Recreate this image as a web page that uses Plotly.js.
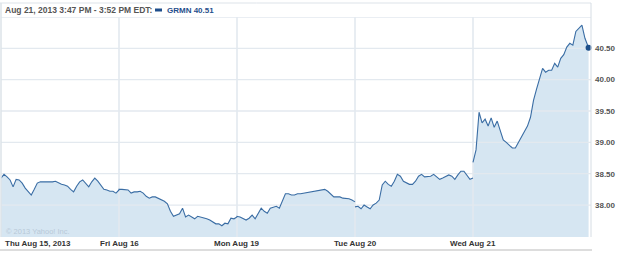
<!DOCTYPE html>
<html>
<head>
<meta charset="utf-8">
<script src="https://cdn.plot.ly/plotly-3.0.1.min.js"></script>
<style>html,body{margin:0;padding:0;background:#fff;}#chart{width:625px;height:255px;}</style>
</head>
<body>
<div id="chart"></div>
<script>
// ---- data ----
const dayLabels = ['Thu Aug 15, 2013', 'Fri Aug 16', 'Mon Aug 19', 'Tue Aug 20', 'Wed Aug 21'];
const sessionMinutes = 390;      // 9:30 - 16:00
const sampleStep = 10;           // minutes between samples
const lastTradeMinute = 382;     // 3:52 PM on Wed
const breakBefore = [false, false, false, true, true];

const thuPrice = [38.43,38.49,38.45,38.40,38.29,38.41,38.40,38.35,38.27,38.21,
                  38.16,38.25,38.35,38.37,38.37,38.36,38.37,38.37,38.38,38.35,
                  38.33,38.32,38.30,38.25,38.21,38.30,38.37,38.40,38.35,38.29,
                  38.37,38.43,38.38,38.32,38.25,38.24,38.22,38.22,38.19,38.24];
const friPrice = [38.25,38.25,38.25,38.24,38.19,38.21,38.21,38.22,38.19,38.14,
                  38.11,38.13,38.13,38.11,38.08,38.06,38.02,37.90,37.82,37.84,
                  37.86,37.95,37.81,37.84,37.81,37.78,37.82,37.81,37.79,37.78,
                  37.76,37.73,37.70,37.70,37.67,37.71,37.70,37.79,37.78,37.81];
const monPrice = [37.82,37.81,37.78,37.76,37.79,37.84,37.78,37.87,37.95,37.90,
                  37.87,37.95,37.97,37.98,37.95,38.08,38.18,38.18,38.16,38.16,
                  38.18,38.18,38.19,38.19,38.21,38.21,38.22,38.24,38.24,38.25,
                  38.22,38.18,38.13,38.13,38.13,38.11,38.11,38.10,38.08,38.05];
const tuePrice = [37.97,37.98,37.94,38.00,37.97,37.94,38.00,38.03,38.08,38.32,
                  38.38,38.33,38.30,38.38,38.49,38.46,38.38,38.35,38.33,38.33,
                  38.38,38.46,38.49,38.45,38.45,38.46,38.49,38.45,38.41,38.43,
                  38.46,38.48,38.46,38.41,38.48,38.54,38.54,38.48,38.41,38.43];
const wedPrice = [38.68,38.88,39.48,39.31,39.37,39.26,39.39,39.24,39.34,39.19,
                  39.04,39.00,38.96,38.91,38.91,39.00,39.10,39.18,39.26,39.40,
                  39.67,39.85,40.01,40.18,40.12,40.15,40.15,40.26,40.20,40.34,
                  40.40,40.52,40.58,40.55,40.77,40.82,40.87,40.66,40.51];
const yTicks = [38.0, 38.5, 39.0, 39.5, 40.0, 40.5];
const yGrid = [38.0, 38.5, 39.0, 39.5, 40.0, 40.5, 41.0];
const yRange = [37.49, 41.0];
const headerText = 'Aug 21, 2013 3:47 PM - 3:52 PM EDT:';
const legendText = 'GRMN 40.51';
const watermark = '\u00a9 2013 Yahoo! Inc.';

// ---- build series ----
const days = [thuPrice, friPrice, monPrice, tuePrice, wedPrice];
const xs = [], ys = [];
days.forEach((vals, d) => {
  if (breakBefore[d]) { xs.push(d * sessionMinutes); ys.push(null); }
  vals.forEach((v, i) => {
    let m = i * sampleStep;
    if (d === days.length - 1 && i === vals.length - 1) m = lastTradeMinute;
    xs.push(d * sessionMinutes + m);
    ys.push(v);
  });
});
const totalMinutes = days.length * sessionMinutes;
const dayStarts = dayLabels.map((_, d) => d * sessionMinutes);

const FONT = 'Liberation Sans, Arial, Helvetica, sans-serif';
const gridColor = '#e3e9ef';

const traces = [];
// fill
traces.push({x: xs, y: ys, type: 'scatter', mode: 'lines', fill: 'tozeroy',
  fillcolor: '#d6e6f2', line: {width: 0, color: 'rgba(0,0,0,0)'}, connectgaps: false,
  hoverinfo: 'skip', showlegend: false});
// gridlines over the fill
yGrid.forEach(g => traces.push({x: [0, totalMinutes], y: [g, g], type: 'scatter', mode: 'lines',
  line: {color: gridColor, width: 1.3}, hoverinfo: 'skip', showlegend: false}));
dayStarts.slice(1).forEach(s => traces.push({x: [s, s], y: yRange, type: 'scatter', mode: 'lines',
  line: {color: gridColor, width: 1.6}, hoverinfo: 'skip', showlegend: false}));
// price line
traces.push({x: xs, y: ys, type: 'scatter', mode: 'lines', connectgaps: false,
  line: {color: '#3a6da4', width: 1.1}, hoverinfo: 'skip', showlegend: false});
// last point
traces.push({x: [xs[xs.length - 1]], y: [ys[ys.length - 1]], type: 'scatter', mode: 'markers',
  marker: {color: '#1d4f8a', size: 6}, hoverinfo: 'skip', showlegend: false, cliponaxis: false});

const W = 625, H = 255, ml = 1, mr = 34, mt = 17, mb = 18;
const pw = W - ml - mr, ph = H - mt - mb;
const px = p => (p - ml) / pw;               // pixel -> paper x
const py = p => (H - mb - p) / ph;           // pixel -> paper y

const annotations = [];
dayLabels.forEach((t, d) => annotations.push({
  text: t, x: dayStarts[d], xref: 'x', y: py(244), yref: 'paper',
  xanchor: d === 0 ? 'left' : 'center', yanchor: 'middle', showarrow: false,
  xshift: d === 0 ? 2 : 0,
  font: {family: FONT, size: 8, color: '#333333', weight: 'bold'}
}));
annotations.push({text: headerText, x: px(3), xref: 'paper', y: py(10), yref: 'paper',
  xanchor: 'left', yanchor: 'middle', showarrow: false,
  font: {family: FONT, size: 8.5, color: '#555555', weight: 'bold'}});
annotations.push({text: legendText, x: px(165), xref: 'paper', y: py(10), yref: 'paper',
  xanchor: 'left', yanchor: 'middle', showarrow: false,
  font: {family: FONT, size: 8, color: '#1f4e8c', weight: 'bold'}});
annotations.push({text: watermark, x: px(4), xref: 'paper', y: py(231), yref: 'paper',
  xanchor: 'left', yanchor: 'middle', showarrow: false,
  font: {family: FONT, size: 7.5, color: '#b8c9d8'}});

const shapes = [
  // header box top
  {type: 'line', xref: 'paper', yref: 'paper', x0: px(0), x1: 1, y0: py(3), y1: py(3),
   line: {color: '#dde3e9', width: 1}},
  // right border
  {type: 'line', xref: 'paper', yref: 'paper', x0: 1, x1: 1, y0: py(3), y1: 0,
   line: {color: '#d6dde4', width: 1}},
  // left border
  {type: 'line', xref: 'paper', yref: 'paper', x0: px(1), x1: px(1), y0: py(3), y1: 0,
   line: {color: '#dde3e9', width: 1.5}},
  // bottom separator
  {type: 'line', xref: 'paper', yref: 'paper', x0: px(0), x1: px(592), y0: py(250), y1: py(250),
   line: {color: '#dddddd', width: 2}},
  // legend swatch
  {type: 'rect', xref: 'paper', yref: 'paper', x0: px(155), x1: px(162), y0: py(11.5), y1: py(8.5),
   fillcolor: '#1f4e8c', line: {width: 0}}
];

const layout = {
  width: W, height: H,
  margin: {l: ml, r: mr, t: mt, b: mb, pad: 0},
  paper_bgcolor: '#ffffff', plot_bgcolor: '#ffffff',
  showlegend: false,
  xaxis: {range: [0, totalMinutes], showgrid: false, zeroline: false, showticklabels: false,
    ticks: '', showline: false, fixedrange: true},
  yaxis: {range: yRange, side: 'right', tickvals: yTicks, tickformat: '.2f', showgrid: false,
    zeroline: false, ticks: '', showline: false, fixedrange: true, ticklabelstandoff: 3,
    tickfont: {family: FONT, size: 8, color: '#555555', weight: 'bold'}},
  annotations: annotations,
  shapes: shapes
};

Plotly.newPlot('chart', traces, layout, {staticPlot: true, displayModeBar: false});
</script>
</body>
</html>
